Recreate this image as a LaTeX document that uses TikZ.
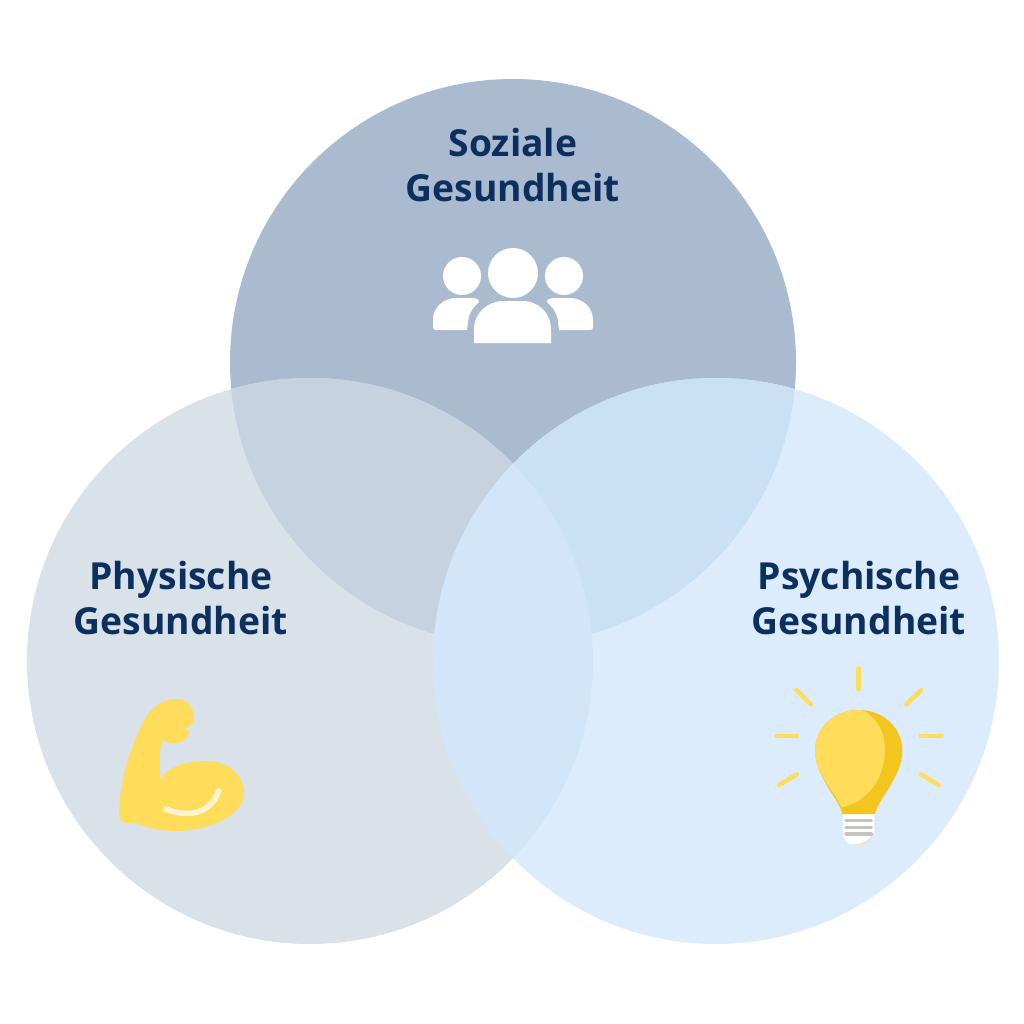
\documentclass[tikz,border=0pt]{standalone}
\usepackage{fontspec}
\setmainfont{Open Sans}
\definecolor{navy}{HTML}{0B2F5E}
\definecolor{ctop}{HTML}{ABBBCF}
\definecolor{cleft}{HTML}{D9E1E9}
\definecolor{cright}{HTML}{DCECFD}
\definecolor{ctopleft}{HTML}{C6D2DF}
\definecolor{ctopright}{HTML}{CAE0F5}
\definecolor{cleftright}{HTML}{D3E6F9}
\definecolor{bulblight}{HTML}{FFDC5A}
\definecolor{bulbdark}{HTML}{F4C51F}
\definecolor{stripe}{HTML}{C3C5BE}
\definecolor{capgrey}{HTML}{E6E6E4}
\definecolor{armline}{HTML}{FFF3D0}
\begin{document}
\begin{tikzpicture}
	[x=0.02cm,y=-0.02cm,
	every node/.style={text=navy,align=center,font=\fontsize{21.2}{25.2}\selectfont\bfseries},
	ray/.style={draw=bulblight,line width=2.5pt,line cap=round},
	bar/.style={draw=stripe,line width=1.9pt,line cap=round}]
	\useasboundingbox (0,0) rectangle (1024,1024);
	\coordinate (ktop) at (513,362);
	\coordinate (kleft) at (310,661);
	\coordinate (kright) at (716,661);

	% circles, then the overlaps
	\fill[ctop] (ktop) circle [radius=283];
	\fill[cleft] (kleft) circle [radius=283];
	\fill[cright] (kright) circle [radius=283];
	\begin{scope}
		\clip (ktop) circle [radius=283];
		\fill[ctopleft] (kleft) circle [radius=283];
		\fill[ctopright] (kright) circle [radius=283];
	\end{scope}
	\begin{scope}
		\clip (kleft) circle [radius=283];
		\fill[cleftright] (kright) circle [radius=283];
	\end{scope}

	\node (nsoz) at (513,165) {Soziale\\Gesundheit};
	\node (nphy) at (181,598) {Physische\\Gesundheit};
	\node (npsy) at (859,598) {Psychische\\Gesundheit};

	% people
	\fill[white] (513,273) circle [radius=25];
	\fill[white] (462,276) circle [radius=19];
	\fill[white] (564,276) circle [radius=19];
	\fill[white] (474,343) -- (474,330) .. controls (474,313) and (487,301) .. (504,301) -- (522,301) .. controls (539,301) and (551,313) .. (551,330) -- (551,343) -- cycle;
	\fill[white] (467,330) -- (436,330) .. controls (434,330) and (433,329) .. (433,327) -- (433,320) .. controls (433,307) and (444,298) .. (456,298) -- (472,298) .. controls (476,298) and (480,300) .. (479,302) .. controls (472,308) and (468,316) .. (468,322) -- cycle;
	\fill[white] (559,330) -- (590,330) .. controls (592,330) and (593,329) .. (593,327) -- (593,320) .. controls (593,307) and (582,298) .. (570,298) -- (554,298) .. controls (550,298) and (546,300) .. (547,302) .. controls (554,308) and (558,316) .. (558,322) -- cycle;

	% arm
	\begin{scope}[shift={(100,685)},scale=1/3]
		\fill[bulblight] (57,385) .. controls (60,290) and (85,200) .. (130,110) .. controls (150,70) and (185,42) .. (232,42) .. controls (262,42) and (282,70) .. (282,100) .. controls (282,115) and (270,125) .. (255,128) .. controls (265,135) and (270,145) .. (265,152) .. controls (255,168) and (235,176) .. (220,175) .. controls (208,174) and (195,168) .. (185,165) .. controls (178,205) and (178,250) .. (182,285) .. controls (200,245) and (260,228) .. (320,228) .. controls (385,228) and (432,270) .. (432,325) .. controls (432,390) and (330,438) .. (225,438) .. controls (185,438) and (150,430) .. (115,417) -- (75,413) .. controls (62,412) and (56,398) .. (57,385) -- cycle;
		\draw[draw=armline,line width=3.2pt,line cap=round] (197,372) .. controls (250,395) and (330,395) .. (356,317);
	\end{scope}

	% bulb
	\begin{scope}[shift={(765,660)},scale=1/3]
		\draw[ray] (281,25) -- (281,87);
		\draw[ray] (94,90) -- (138,133);
		\draw[ray] (468,90) -- (424,133);
		\draw[ray] (34,228) -- (96,228);
		\draw[ray] (467,228) -- (529,228);
		\draw[ray] (42,375) -- (96,343);
		\draw[ray] (521,375) -- (467,343);
		\fill[white] (234,462) -- (328,462) -- (328,520) .. controls (328,542) and (305,560) .. (281,560) .. controls (257,560) and (234,542) .. (234,520) -- cycle;
		\fill[capgrey] (328,515) -- (328,520) .. controls (328,542) and (305,560) .. (281,560) .. controls (272,560) and (265,557) .. (258,553) .. controls (290,553) and (315,540) .. (328,515) -- cycle;
		\fill[bulbdark] (232,462) .. controls (225,420) and (150,350) .. (150,272) .. controls (150,205) and (205,150) .. (281,150) .. controls (357,150) and (412,205) .. (412,272) .. controls (412,350) and (337,420) .. (330,462) -- cycle;
		\fill[bulblight] (229,442) .. controls (215,400) and (150,345) .. (150,272) .. controls (150,205) and (205,150) .. (281,150) .. controls (284,150) and (287,150) .. (290,150) .. controls (335,170) and (360,215) .. (360,270) .. controls (360,360) and (300,430) .. (229,442) -- cycle;
		\draw[bar] (243,481) -- (319,481);
		\draw[bar] (243,502) -- (319,502);
		\draw[bar] (243,522) -- (319,522);
	\end{scope}
\end{tikzpicture}
\end{document}
